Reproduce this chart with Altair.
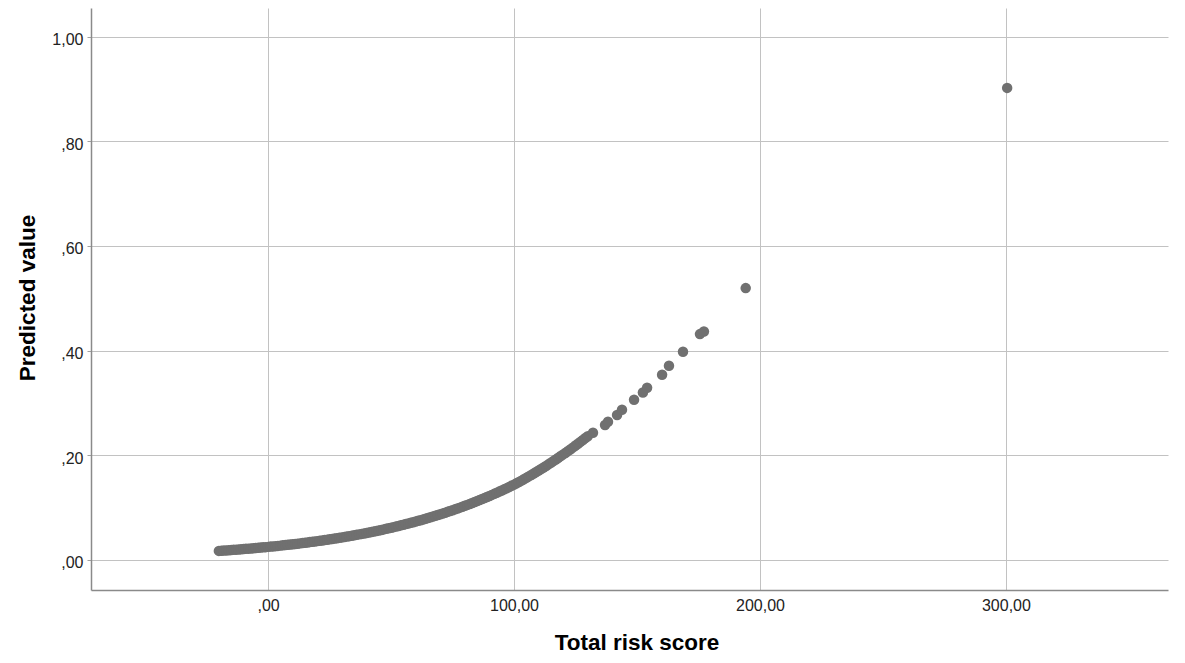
import altair as alt
import pandas as pd

# Total risk score (x) and predicted value (y)
score_dense = [
    -20, -19, -18, -17, -16, -15, -14, -13, -12, -11, -10, -9, -8, -7, -6, -5, -4, -3, -2, -1,
    0, 1, 2, 3, 4, 5, 6, 7, 8, 9, 10, 11, 12, 13, 14, 15, 16, 17, 18, 19,
    20, 21, 22, 23, 24, 25, 26, 27, 28, 29, 30, 31, 32, 33, 34, 35, 36, 37, 38, 39,
    40, 41, 42, 43, 44, 45, 46, 47, 48, 49, 50, 51, 52, 53, 54, 55, 56, 57, 58, 59,
    60, 61, 62, 63, 64, 65, 66, 67, 68, 69, 70, 71, 72, 73, 74, 75, 76, 77, 78, 79,
    80, 81, 82, 83, 84, 85, 86, 87, 88, 89, 90, 91, 92, 93, 94, 95, 96, 97, 98, 99,
    100, 101, 102, 103, 104, 105, 106, 107, 108, 109, 110, 111, 112, 113, 114, 115, 116, 117, 118, 119,
    120, 121, 122, 123, 124, 125, 126, 127, 128, 129, 130,
]
predicted_dense = [
    0.0173, 0.0176, 0.0179, 0.0183, 0.0186, 0.0190, 0.0193, 0.0197, 0.0200, 0.0204,
    0.0208, 0.0212, 0.0216, 0.0220, 0.0224, 0.0228, 0.0232, 0.0236, 0.0241, 0.0245,
    0.0250, 0.0255, 0.0259, 0.0264, 0.0269, 0.0274, 0.0279, 0.0284, 0.0289, 0.0295,
    0.0300, 0.0306, 0.0311, 0.0317, 0.0323, 0.0329, 0.0335, 0.0341, 0.0347, 0.0354,
    0.0360, 0.0367, 0.0373, 0.0380, 0.0387, 0.0394, 0.0401, 0.0409, 0.0416, 0.0424,
    0.0431, 0.0439, 0.0447, 0.0455, 0.0464, 0.0472, 0.0481, 0.0489, 0.0498, 0.0507,
    0.0516, 0.0525, 0.0535, 0.0544, 0.0554, 0.0564, 0.0574, 0.0584, 0.0595, 0.0605,
    0.0616, 0.0627, 0.0638, 0.0650, 0.0661, 0.0673, 0.0685, 0.0697, 0.0709, 0.0722,
    0.0734, 0.0747, 0.0760, 0.0774, 0.0787, 0.0801, 0.0815, 0.0829, 0.0843, 0.0858,
    0.0873, 0.0888, 0.0903, 0.0919, 0.0935, 0.0950, 0.0967, 0.0983, 0.1000, 0.1017,
    0.1035, 0.1052, 0.1070, 0.1088, 0.1106, 0.1125, 0.1144, 0.1163, 0.1182, 0.1203,
    0.1223, 0.1243, 0.1263, 0.1285, 0.1306, 0.1327, 0.1349, 0.1371, 0.1393, 0.1416,
    0.1439, 0.1465, 0.1490, 0.1516, 0.1543, 0.1569, 0.1597, 0.1624, 0.1652, 0.1680,
    0.1709, 0.1738, 0.1767, 0.1797, 0.1827, 0.1858, 0.1889, 0.1921, 0.1952, 0.1985,
    0.2017, 0.2050, 0.2084, 0.2117, 0.2151, 0.2186, 0.2221, 0.2257, 0.2292, 0.2329,
    0.2365,
]
score_sparse = [132.1, 137.0, 138.2, 141.9, 143.9, 148.8, 152.4, 154.1, 160.2, 163.0,
                168.7, 175.6, 177.2, 194.2, 300.5]
predicted_sparse = [0.243, 0.258, 0.264, 0.277, 0.287, 0.306, 0.320, 0.329, 0.354, 0.371,
                    0.398, 0.4316, 0.4366, 0.5195, 0.902]

x_ticks = [0, 100, 200, 300]
y_ticks = [0.0, 0.2, 0.4, 0.6, 0.8, 1.0]

df = pd.DataFrame({
    "score": score_dense + score_sparse,
    "predicted": predicted_dense + predicted_sparse,
})

FONT = "Liberation Sans"

x_label = "datum.value == 0 ? ',00' : replace(format(datum.value, '.2f'), '.', ',')"
y_label = ("datum.value < 1 ? slice(replace(format(datum.value, '.2f'), '.', ','), 1) "
           ": replace(format(datum.value, '.2f'), '.', ',')")

chart = alt.Chart(df).mark_circle(size=110, color="#707070", opacity=1).encode(
    x=alt.X(
        "score:Q",
        scale=alt.Scale(domain=[-72, 365.9], nice=False, zero=False),
        axis=alt.Axis(
            values=x_ticks,
            labelExpr=x_label,
            title="Total risk score",
            ticks=False,
            labelPadding=7,
            labelBaseline="top",
            titleX=545.5,
            titleY=59,
            titleAlign="center",
            titleBaseline="alphabetic",
        ),
    ),
    y=alt.Y(
        "predicted:Q",
        scale=alt.Scale(domain=[-0.0574, 1.0547], nice=False, zero=False),
        axis=alt.Axis(
            values=y_ticks,
            labelExpr=y_label,
            title="Predicted value",
            ticks=True,
            tickSize=4,
            labelPadding=4,
            labelOffset=3,
            titleX=-57,
            titleY=289.5,
            titleAngle=270,
            titleAlign="center",
            titleBaseline="alphabetic",
        ),
    ),
).properties(
    width=1077,
    height=582,
    autosize="none",
    padding={"left": 83, "top": 0, "right": 9, "bottom": 65},
).configure_view(
    strokeOpacity=0
).configure_axis(
    domainColor="#8a8a8a",
    domainWidth=1.5,
    gridColor="#c2c2c2",
    gridWidth=1,
    tickColor="#a0a0a0",
    labelFont=FONT,
    labelFontSize=16,
    labelColor="#222222",
    titleFont=FONT,
    titleFontSize=22.5,
    titleFontWeight="bold",
    titleColor="#000000",
)

chart.save("out.html", embed_options={"renderer": "svg", "actions": False})
